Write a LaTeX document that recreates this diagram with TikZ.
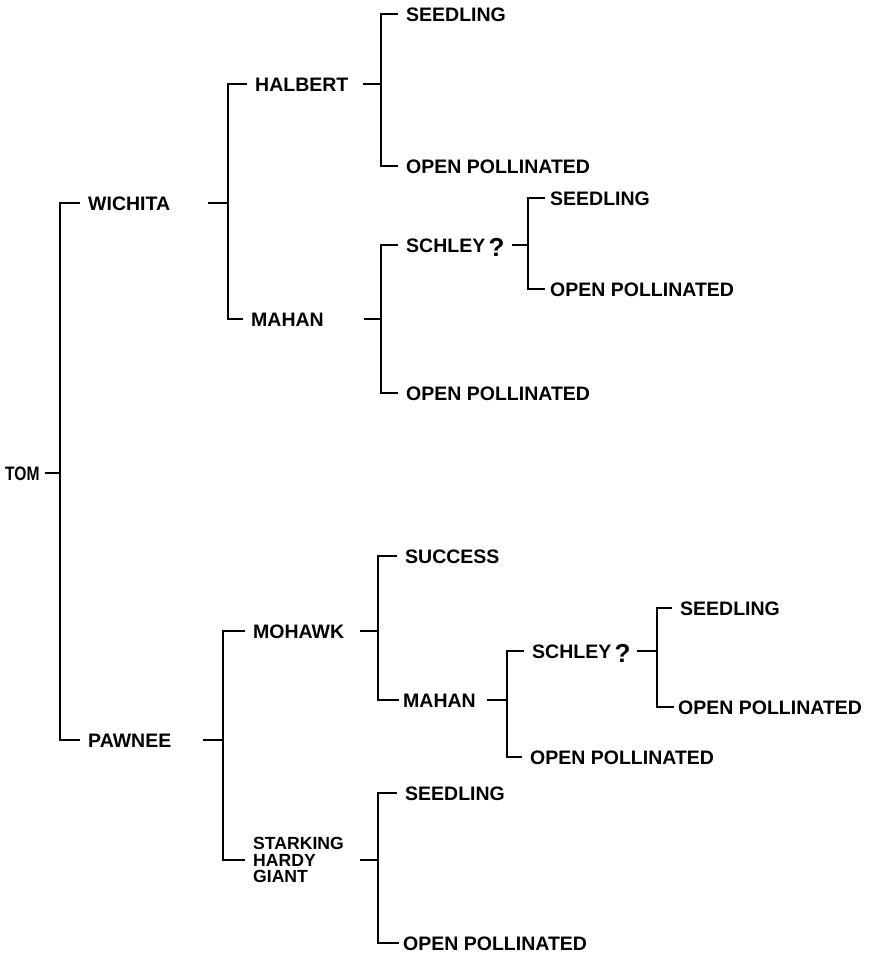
\documentclass[tikz,border=0pt]{standalone}
\usepackage{fontspec}
\setmainfont{Liberation Sans}
\begin{document}
\begin{tikzpicture}[x=1pt,y=-1pt,
  lbl/.style={anchor=west,inner sep=0pt,text height=14pt,text depth=0pt,
    font=\bfseries\fontsize{19.5}{21}\selectfont},
  lblm/.style={anchor=west,inner sep=0pt,align=left,
    font=\bfseries\fontsize{17.6}{16.5}\selectfont},
  ln/.style={line width=1.8pt,line join=miter},
  gapl/.style={xshift=-8pt}]
\useasboundingbox (0,0) rectangle (869,953);
\fill[white] (0,0) rectangle (869,953);

% ---- nodes ----
\node[lbl] (tom) at (5,473) {\scalebox{0.8}[1]{TOM}};
\node[lbl] (wichita) at (88,203) {WICHITA};
\node[lbl] (pawnee) at (88,740) {PAWNEE};
\node[lbl] (halbert) at (255,84) {HALBERT};
\node[lbl] (mahanA) at (251,319) {MAHAN};
\node[lbl] (seedA) at (406,14) {SEEDLING};
\node[lbl] (opA) at (406,166) {OPEN POLLINATED};
\node[lbl] (schleyA) at (406,245) {SCHLEY\,\raisebox{-4pt}{\fontsize{26}{26}\selectfont ?}};
\node[lbl] (opB) at (406,393) {OPEN POLLINATED};
\node[lbl] (seedB) at (550,198) {SEEDLING};
\node[lbl] (opC) at (550,289) {OPEN POLLINATED};
\node[lbl] (mohawk) at (253,631) {MOHAWK};
\node[lblm] (shg) at (253,860) {STARKING\\HARDY\\GIANT};
\node[lbl] (success) at (405,556) {SUCCESS};
\node[lbl] (mahanB) at (403,700) {MAHAN};
\node[lbl] (schleyB) at (532,651) {SCHLEY\,\raisebox{-4pt}{\fontsize{26}{26}\selectfont ?}};
\node[lbl] (opD) at (530,757) {OPEN POLLINATED};
\node[lbl] (seedC) at (680,608) {SEEDLING};
\node[lbl] (opE) at (678,707) {OPEN POLLINATED};
\node[lbl] (seedD) at (405,793) {SEEDLING};
\node[lbl] (opF) at (403,943) {OPEN POLLINATED};

% ---- vertical bar positions and parent tick starts ----
\coordinate (v0) at (60,0);
\coordinate (v1) at (228,0);
\coordinate (v2) at (381,0);
\coordinate (v3) at (528,0);
\coordinate (v4) at (223,0);
\coordinate (v5) at (378,0);
\coordinate (v6) at (507,0);
\coordinate (v7) at (657,0);
\coordinate (t0) at (45,473);
\coordinate (t1) at (208,203);
\coordinate (t2) at (363,84);
\coordinate (t3) at (364,319);
\coordinate (t4) at (512,245);
\coordinate (t5) at (203,740);
\coordinate (t6) at (360,631);
\coordinate (t7) at (487,700);
\coordinate (t8) at (637,651);
\coordinate (t9) at (360,860);

% ---- connectors ----
\draw[ln] ([gapl]wichita.west) -- (wichita.west -| v0) -- (pawnee.west -| v0) -- ([gapl]pawnee.west);
\draw[ln] (t0) -- (t0 -| v0);

\draw[ln] ([gapl]halbert.west) -- (halbert.west -| v1) -- (mahanA.west -| v1) -- ([gapl]mahanA.west);
\draw[ln] (t1) -- (t1 -| v1);

\draw[ln] ([gapl]seedA.west) -- (seedA.west -| v2) -- (opA.west -| v2) -- ([gapl]opA.west);
\draw[ln] (t2) -- (t2 -| v2);

\draw[ln] ([gapl]schleyA.west) -- (schleyA.west -| v2) -- (opB.west -| v2) -- ([gapl]opB.west);
\draw[ln] (t3) -- (t3 -| v2);

\draw[ln] ([xshift=-5pt]seedB.west) -- (seedB.west -| v3) -- (opC.west -| v3) -- ([xshift=-5pt]opC.west);
\draw[ln] (t4) -- (t4 -| v3);

\draw[ln] ([gapl]mohawk.west) -- (mohawk.west -| v4) -- (shg.west -| v4) -- ([gapl]shg.west);
\draw[ln] (t5) -- (t5 -| v4);

\draw[ln] ([gapl]success.west) -- (success.west -| v5) -- (mahanB.west -| v5) -- ([xshift=-4pt]mahanB.west);
\draw[ln] (t6) -- (t6 -| v5);

\draw[ln] ([gapl]schleyB.west) -- (schleyB.west -| v6) -- (opD.west -| v6) -- ([gapl]opD.west);
\draw[ln] (t7) -- (t7 -| v6);

\draw[ln] ([gapl]seedC.west) -- (seedC.west -| v7) -- (opE.west -| v7) -- ([xshift=-4pt]opE.west);
\draw[ln] (t8) -- (t8 -| v7);

\draw[ln] ([gapl]seedD.west) -- (seedD.west -| v5) -- (opF.west -| v5) -- ([xshift=-4pt]opF.west);
\draw[ln] (t9) -- (t9 -| v5);
\end{tikzpicture}
\end{document}
